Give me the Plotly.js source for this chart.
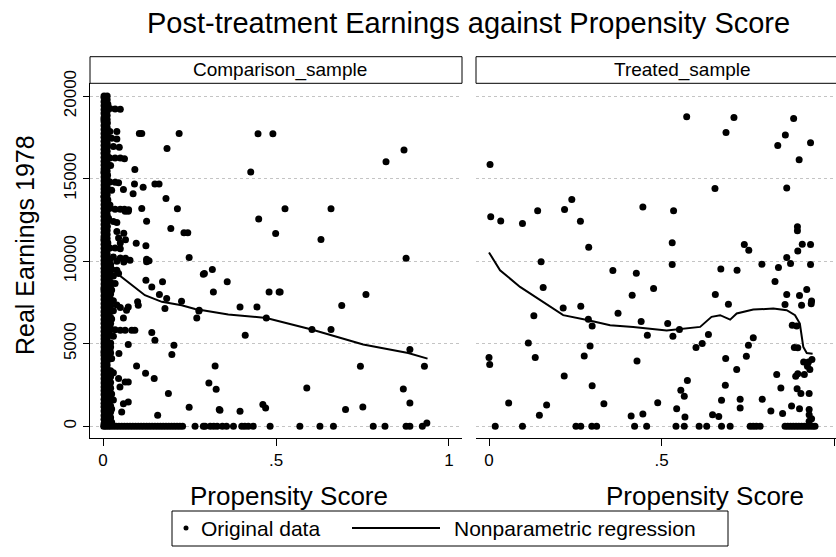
<!DOCTYPE html>
<html>
<head>
<meta charset="utf-8">
<script src="https://cdn.plot.ly/plotly-3.0.1.min.js"></script>
<style>html,body{margin:0;padding:0;background:#fff;}#chart{width:836px;height:557px;}</style>
</head>
<body>
<div id="chart"></div>
<script>
// ---------- DATA ----------
var panelNames = ["Comparison_sample", "Treated_sample"];
var xTickVals = [0, 0.5, 1];
var xTickText = ["0", ".5", "1"];
var yTickVals = [0, 5000, 10000, 15000, 20000];
var yTickText = ["0", "5000", "10000", "15000", "20000"];

// Comparison sample: the solid column of cases with propensity score near zero
var compFillXA = 0.003;
var compFillYA = [150,420,650,930,1180,1400,1640,1920,2150,2380,2620,2880,3120,3360,3600,3820,4080,4300,
4560,4800,5030,5280,5500,5760,5990,6240,6470,6720,6950,7190,7420,7680,7910,8150,8390,8620,8880,9110,
9350,9580,9830,10060,10300,10540,10780,11020,11260,11500,11740,11980,12220,12460,12700,12940,13180,
13420,13660,13900,14140,14380,14620,14860,15100,15340,15580,15820,16060,16300,16540,16780,17020,17260,
17500,17740,17980,18220,18460,18700,18940,19180,19420,19660,19900];
var compFillXB = 0.012;
var compFillYB = [280,540,790,1050,1290,1520,1780,2030,2270,2500,2750,3000,3240,3480,3710,3950,4190,4430,
4680,4920,5150,5390,5630,5870,6110,6350,6590,6830,7070,7300,7550,7790,8030,8270,8500,8750,8990,9230,
9470,9710,9950,10180,10420,10660,10900,11140,11380,11620,11860,12100,12340,12580,12820,13060,13300,
13540,13780,14020,14260,14500,14740,14980,15220,15460,15700,15940,16180,16420,16660,16900,17140,17380,
17620,17860,18100,18340,18580,18820,19060,19300,19540,19780];
var compFillXC = 0.022;
var compFillYC = [180,520,870,1230,1580,1940,2300,2650,3010,3370,4090,4440,4800,5510,5880,6230,6590,
6950,7300,7660,8020,8380,8730,9090,9450,9800];

// Comparison sample: arms and edges of the column [x, y]
var compColumn = [
[0.003,20000],[0.012,20000],[0.008,19800],[0.004,19600],[0.014,19500],
[0.006,19250],[0.02,19250],[0.035,19220],[0.05,19200],
[0.004,19000],[0.01,18800],[0.003,18600],[0.012,18400],[0.005,18200],[0.009,18000],
[0.02,17850],[0.04,17850],[0.004,17700],[0.025,17450],[0.04,17400],
[0.006,17200],[0.012,17000],[0.03,16950],[0.047,16900],
[0.004,16600],[0.011,16450],
[0.006,16250],[0.02,16250],[0.035,16250],[0.05,16250],[0.062,16200],
[0.01,16000],[0.004,15800],[0.022,15800],
[0.008,15600],[0.003,15400],[0.013,15200],
[0.006,15000],[0.01,14850],[0.02,14800],[0.035,14780],[0.045,14750],
[0.004,14500],[0.012,14300],[0.025,14300],
[0.006,14100],[0.003,13900],[0.014,13700],
[0.008,13500],[0.02,13400],
[0.004,13200],[0.02,13200],[0.035,13150],[0.05,13150],[0.062,13150],[0.074,13120],
[0.01,12900],[0.004,12700],[0.016,12600],
[0.007,12400],[0.03,12400],[0.04,12350],
[0.012,12100],[0.004,11900],
[0.04,11800],[0.06,11700],[0.045,11400],[0.065,11300],[0.05,11100],
[0.008,11600],[0.003,11350],[0.014,11100],
[0.006,10900],[0.02,10800],[0.035,10800],[0.05,10750],
[0.01,10600],[0.004,10400],
[0.012,10250],[0.03,10250],[0.05,10200],[0.065,10180],
[0.02,10100],[0.04,10000],[0.06,9950],[0.078,10050],
[0.006,9800],[0.02,9700],
[0.004,9550],[0.025,9500],[0.04,9450],[0.045,9250],[0.03,9100],[0.015,9200],[0.01,9000],
[0.005,8800],[0.02,8700],[0.035,8650],
[0.012,8500],[0.003,8300],[0.025,8250],
[0.008,8100],[0.018,7950],[0.004,7850],
[0.014,7700],[0.03,7600],
[0.006,7500],[0.02,7400],[0.04,7350],[0.05,7200],
[0.01,7100],[0.03,7000],[0.004,6900],
[0.016,6700],[0.006,6550],[0.025,6500],
[0.012,6300],[0.004,6150],
[0.02,6000],[0.008,5900],[0.035,5850],[0.05,5820],
[0.004,5650],[0.015,5550],[0.03,5450],[0.01,5350],
[0.004,5150],[0.022,5050],[0.012,4900],
[0.006,4700],[0.02,4600],[0.003,4450],[0.015,4350],
[0.008,4150],[0.025,4100],[0.005,3950],[0.01,3850],
[0.005,3400],[0.015,3300],[0.03,3250],
[0.008,3100],[0.02,2950],[0.045,2900],
[0.004,2750],[0.012,2600],
[0.02,2400],[0.006,2250],
[0.014,2100],[0.025,1950],[0.004,1850],
[0.012,1700],[0.03,1600],[0.006,1500],
[0.016,1300],[0.004,1150],[0.025,1050],
[0.01,900],[0.005,700],[0.02,600],
[0.004,400],[0.014,300],[0.025,250]
];

// Comparison sample: scattered points [x, y]
var compScatter = [
[0.112,17740],[0.105,17740],[0.220,17740],[0.185,16830],[0.092,15560],[0.150,14670],[0.162,14670],
[0.091,14670],[0.116,14480],[0.059,14350],[0.087,14080],[0.182,13800],[0.112,13190],[0.215,13170],
[0.064,13030],[0.073,13030],[0.126,12420],[0.196,11980],[0.234,11720],[0.245,11720],[0.096,11090],
[0.124,10930],[0.249,10220],[0.126,10120],[0.133,10020],
[0.448,17720],[0.491,17720],[0.427,15410],[0.526,13170],[0.450,12560],[0.499,11680],
[0.870,16730],[0.818,16020],[0.659,13170],[0.630,11310],[0.876,10180],[0.512,8140],[0.760,7980],
[0.690,7310],[0.604,5860],[0.659,5860],[0.887,4650],[0.929,3640],[0.744,3640],[0.589,2320],
[0.868,2260],[0.701,1010],[0.751,1170],[0.887,1410],
[0.293,9250],[0.316,9500],[0.359,8750],[0.319,8140],[0.480,8140],[0.509,8140],[0.396,7230],
[0.445,7230],[0.277,6990],[0.271,6560],[0.472,6560],[0.411,5520],[0.324,3650],[0.306,2620],
[0.327,2240],[0.336,1010],[0.396,910],[0.462,1320],[0.470,1110],
[0.126,9960],[0.290,9210],[0.124,8850],[0.172,8750],[0.141,8440],[0.163,7980],[0.184,7740],
[0.227,7580],[0.100,7540],[0.102,7330],[0.073,7230],[0.068,7030],[0.179,7130],[0.278,7030],
[0.059,6560],[0.064,5820],[0.083,5820],[0.092,5820],[0.141,5680],[0.150,5210],[0.073,4950],
[0.205,4910],[0.199,4350],[0.046,4410],[0.097,3650],[0.123,3210],[0.148,2890],[0.064,2690],
[0.073,2690],[0.049,2380],[0.189,1980],[0.073,1470],[0.059,1370],[0.054,870],[0.249,1150],
[0.158,670],[0.338,970],[0.936,200]
];

// Comparison sample: propensity scores of zero-earnings cases
var compZeroX = [0.002,0.008,0.015,0.022,0.03,0.038,0.046,0.054,0.062,0.07,0.078,0.086,0.094,
0.102,0.11,0.118,0.126,0.134,0.142,0.15,0.158,0.166,0.174,0.182,0.19,0.198,0.206,0.214,0.222,
0.23,0.266,0.29,0.295,0.31,0.32,0.33,0.345,0.357,0.377,0.401,0.41,0.42,0.434,0.483,0.569,
0.627,0.666,0.781,0.815,0.876,0.887,0.923];

// Comparison sample: nonparametric regression
var compFitX = [0.003,0.02,0.05,0.083,0.121,0.170,0.227,0.266,0.362,0.472,0.512,0.555,0.603,0.752,0.882,0.938];
var compFitY = [10600,9900,9100,8550,7940,7540,7330,7100,6770,6560,6350,6100,5860,4950,4440,4100];

// Treated sample: points [x, y]
var treatScatter = [
[0.003,15860],[0.005,12690],[0.034,12440],[0.097,12280],[0.141,13050],[0.219,13130],[0.240,13740],
[0.265,12420],[0.446,13290],[0.289,10850],[0.151,9960],[0.359,9430],[0.427,9270],[0.157,8400],
[0.415,7940],[0.477,8340],[0.215,7170],[0.266,7270],[0.130,6690],[0.374,6850],[0.288,6480],
[0.299,6080],[0.441,6340],[0.459,5510],[0.114,5050],[0.293,4870],[0.000,4160],[0.002,3740],
[0.134,4160],[0.276,4260],[0.429,3960],[0.218,3050],[0.299,2460],[0.057,1410],[0.167,1290],
[0.333,1370],[0.489,1430],[0.146,670],[0.412,620],[0.446,750],
[0.573,18750],[0.710,18710],[0.687,17800],[0.883,18650],[0.859,17640],[0.837,17010],[0.932,17170],
[0.899,16140],[0.655,14410],[0.863,14440],[0.535,13050],[0.894,12080],[0.894,11840],[0.531,11110],
[0.740,11010],[0.753,10670],[0.908,11030],[0.932,11010],[0.895,10620],[0.531,9800],[0.863,10220],
[0.874,9860],[0.932,9800],[0.672,9520],[0.719,9450],[0.791,9820],[0.839,9620],[0.829,8770],
[0.656,7980],[0.694,7390],[0.863,7980],[0.900,7920],[0.921,8280],[0.935,7590],[0.906,7330],
[0.934,7430],[0.858,7370],[0.518,6220],[0.879,6120],[0.892,6080],[0.533,5450],[0.552,5860],
[0.636,5560],[0.618,5010],[0.600,4770],[0.766,5370],[0.752,4910],[0.885,4770],[0.895,4750],
[0.912,3900],[0.926,3900],[0.936,4040],[0.686,4100],[0.746,4240],[0.718,3440],[0.923,3640],
[0.930,3440],[0.914,3130],[0.834,3130],[0.895,3190],[0.889,3030],[0.575,2770],[0.685,2480],
[0.556,2180],[0.566,1820],[0.846,2320],[0.893,2280],[0.904,1980],[0.928,1980],[0.674,1580],
[0.728,1640],[0.792,1640],[0.728,1110],[0.544,1070],[0.817,930],[0.851,770],[0.877,1230],
[0.900,1070],[0.928,1010],[0.928,700],[0.935,450],[0.568,560],[0.648,700],[0.666,600],[0.928,300]
];

// Treated sample: propensity scores of zero-earnings cases
var treatZeroX = [0.018,0.097,0.252,0.266,0.298,0.312,0.422,0.457,0.542,0.566,0.609,0.631,0.674,
0.699,0.757,0.766,0.775,0.786,0.858,0.866,0.874,0.882,0.890,0.898,0.906,0.914,0.922,0.930,0.938,0.945];

// Treated sample: nonparametric regression
var treatFitX = [0.000,0.032,0.090,0.148,0.215,0.288,0.351,0.418,0.496,0.515,0.612,0.645,0.670,0.699,0.718,0.766,0.824,0.863,0.887,0.901,0.911,0.921,0.938];
var treatFitY = [10530,9450,8440,7640,6730,6420,6120,6020,5860,5800,6020,6630,6730,6460,6830,7070,7130,7030,6730,6220,4810,4440,4400];

// ---------- BUILD ----------
function col(arr, i) { return arr.map(function (p) { return p[i]; }); }
function constX(ys, x) { return ys.map(function () { return x; }); }
var compX = constX(compFillYA, compFillXA).concat(constX(compFillYB, compFillXB), constX(compFillYC, compFillXC),
  col(compColumn, 0), col(compScatter, 0), compZeroX);
var compY = compFillYA.concat(compFillYB, compFillYC, col(compColumn, 1), col(compScatter, 1),
  compZeroX.map(function () { return 0; }));
var treatX = col(treatScatter, 0).concat(treatZeroX);
var treatY = col(treatScatter, 1).concat(treatZeroX.map(function () { return 0; }));

var FONT = "Liberation Sans, Arial, Helvetica, sans-serif";
var W = 836, H = 557;
function px(x) { return x / W; }
function py(y) { return 1 - y / H; }

var mk = { color: "#000", size: 7, line: { width: 0 } };
var traces = [
  { type: "scatter", mode: "lines", x: compFitX, y: compFitY, xaxis: "x", yaxis: "y", line: { color: "#000", width: 2 }, name: "Nonparametric regression", showlegend: false },
  { type: "scatter", mode: "markers", x: compX, y: compY, xaxis: "x", yaxis: "y", marker: mk, name: "Original data", showlegend: false },
  { type: "scatter", mode: "markers", x: treatX, y: treatY, xaxis: "x2", yaxis: "y2", marker: mk, name: "Original data", showlegend: false },
  { type: "scatter", mode: "lines", x: treatFitX, y: treatFitY, xaxis: "x2", yaxis: "y2", line: { color: "#000", width: 2 }, name: "Nonparametric regression", showlegend: false }
];

var yDom = [py(438), py(83.3)];
var xAxisBase = {
  tickvals: xTickVals, ticktext: xTickText, ticks: "outside", ticklen: 7, tickwidth: 1, tickcolor: "#000",
  showline: true, linecolor: "#000", linewidth: 1, showgrid: false, zeroline: false,
  tickfont: { family: FONT, size: 17, color: "#000" }, fixedrange: true
};
var yGrid = { showgrid: true, gridcolor: "#c4c4c4", gridwidth: 1, griddash: "dot", zeroline: false };

var layout = {
  width: W, height: H,
  margin: { l: 0, r: 0, t: 0, b: 0 },
  paper_bgcolor: "#fff", plot_bgcolor: "#fff",
  showlegend: false,
  font: { family: FONT, color: "#000" },
  xaxis: Object.assign({}, xAxisBase, { domain: [px(90), px(462)], range: [-0.0376, 1.0376], anchor: "y" }),
  xaxis2: Object.assign({}, xAxisBase, { domain: [px(476), 1], range: [-0.0377, 1.0058], anchor: "y2" }),
  yaxis: Object.assign({}, yGrid, {
    domain: yDom, range: [-709, 20775], anchor: "x",
    tickvals: yTickVals, ticktext: yTickText, tickangle: -90,
    ticks: "outside", ticklen: 6, tickcolor: "#000", showline: true, linecolor: "#000", linewidth: 1,
    tickfont: { family: FONT, size: 17, color: "#000" }, fixedrange: true
  }),
  yaxis2: Object.assign({}, yGrid, {
    domain: yDom, range: [-709, 20775], anchor: "x2", matches: "y",
    tickvals: yTickVals, showticklabels: false, ticks: "", showline: false, fixedrange: true
  }),
  shapes: [
    { type: "rect", xref: "paper", yref: "paper", x0: px(90), x1: px(462), y0: py(83.3), y1: py(56.7), line: { color: "#000", width: 1 } },
    { type: "rect", xref: "paper", yref: "paper", x0: px(476), x1: 1.01, y0: py(83.3), y1: py(56.7), line: { color: "#000", width: 1 } },
    { type: "rect", xref: "paper", yref: "paper", x0: px(172), x1: px(728), y0: py(546), y1: py(511), line: { color: "#000", width: 1 } },
    { type: "circle", xref: "paper", yref: "paper", x0: px(183.5), x1: px(188.5), y0: py(530.5), y1: py(525.5), fillcolor: "#000", line: { width: 0 } },
    { type: "line", xref: "paper", yref: "paper", x0: px(352), x1: px(440), y0: py(528), y1: py(528), line: { color: "#000", width: 2 } }
  ],
  annotations: [
    { text: "Post-treatment Earnings against Propensity Score", xref: "paper", yref: "paper", x: px(468), y: py(23), xanchor: "center", yanchor: "middle", showarrow: false, font: { family: FONT, size: 29, color: "#000" } },
    { text: panelNames[0], xref: "paper", yref: "paper", x: px(280), y: py(70), xanchor: "center", yanchor: "middle", showarrow: false, font: { family: FONT, size: 19, color: "#000" } },
    { text: panelNames[1], xref: "paper", yref: "paper", x: px(682), y: py(70), xanchor: "center", yanchor: "middle", showarrow: false, font: { family: FONT, size: 19, color: "#000" } },
    { text: "Real Earnings 1978", xref: "paper", yref: "paper", x: px(25), y: py(245), xanchor: "center", yanchor: "middle", textangle: -90, showarrow: false, font: { family: FONT, size: 25, color: "#000" } },
    { text: "Propensity Score", xref: "paper", yref: "paper", x: px(288.5), y: py(496), xanchor: "center", yanchor: "middle", showarrow: false, font: { family: FONT, size: 26, color: "#000" } },
    { text: "Propensity Score", xref: "paper", yref: "paper", x: px(705), y: py(496), xanchor: "center", yanchor: "middle", showarrow: false, font: { family: FONT, size: 26, color: "#000" } },
    { text: "Original data", xref: "paper", yref: "paper", x: px(199), y: py(528), xanchor: "left", yanchor: "middle", showarrow: false, font: { family: FONT, size: 21, color: "#000" } },
    { text: "Nonparametric regression", xref: "paper", yref: "paper", x: px(452), y: py(528), xanchor: "left", yanchor: "middle", showarrow: false, font: { family: FONT, size: 21, color: "#000" } }
  ]
};

Plotly.newPlot("chart", traces, layout, { displayModeBar: false, staticPlot: true });
</script>
</body>
</html>
